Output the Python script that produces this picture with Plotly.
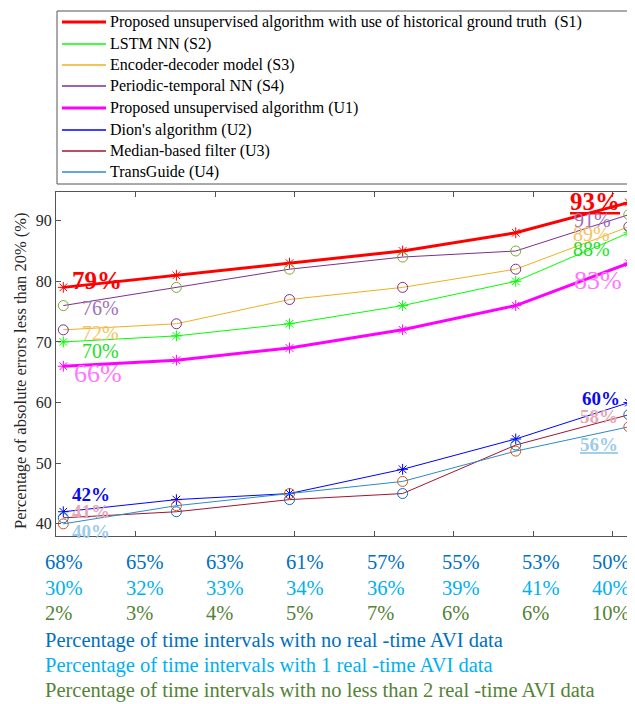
import plotly.graph_objects as go

# ---------------- data ----------------
x_idx = [1, 2, 3, 4, 5, 6]
s1 = [79, 81, 83, 85, 88, 93]
s2 = [70, 71, 73, 76, 80, 88]
s3 = [72, 73, 77, 79, 82, 89]
s4 = [76, 79, 82, 84, 85, 91]
u1 = [66, 67, 69, 72, 76, 83]
u2 = [42, 44, 45, 49, 54, 60]
u3 = [41, 42, 44, 45, 53, 58]
u4 = [40, 43, 45, 47, 52, 56]

series_names = [
    "Proposed unsupervised algorithm with use of historical ground truth  (S1)",
    "LSTM NN (S2)",
    "Encoder-decoder model (S3)",
    "Periodic-temporal NN (S4)",
    "Proposed unsupervised algorithm (U1)",
    "Dion's algorithm (U2)",
    "Median-based filter (U3)",
    "TransGuide (U4)",
]

row_none = ["68%", "65%", "63%", "61%", "57%", "55%", "53%", "50%"]
row_one = ["30%", "32%", "33%", "34%", "36%", "39%", "41%", "40%"]
row_two = ["2%", "3%", "4%", "5%", "7%", "6%", "6%", "10%"]
row_captions = [
    "Percentage of time intervals with no real -time AVI data",
    "Percentage of time intervals with 1 real -time AVI data",
    "Percentage of time intervals with no less than 2 real -time AVI data",
]
y_tick_vals = [40, 50, 60, 70, 80, 90]
y_title = "Percentage of absolute errors less than 20% (%)"

# ---------------- layout geometry (page has an 8px body margin) ----------------
W, H = 627, 696
L, R, T, B = 56, 632, 192, 536          # plot area on the page
OFF = 8
ML, MT = L - OFF, T - OFF
MR, MB = W - (R - OFF), H - (B - OFF)
PW, PH = R - L, B - T
XR = [0.9355, 6.028]
YR = [38.0, 94.73]
x_tick_pos = [XR[0] + 0.7034 * k for k in range(8)]

def pxx(px):
    return (px - L) / PW

def pxy(py):
    return (B - py) / PH

SERIF = "Liberation Serif"

styles = [
    # line colour, width, marker symbol, marker colour
    ("#FF0000", 3, "asterisk-open", "#FF0000"),
    ("#00FF00", 1, "asterisk-open", "#00FF00"),
    ("#EDB120", 1, "circle-open", "#7E2F8E"),
    ("#7E2F8E", 1, "circle-open", "#77AC30"),
    ("#FF00FF", 3, "asterisk-open", "#FF00FF"),
    ("#0000FF", 1, "asterisk-open", "#0000FF"),
    ("#A2142F", 1, "circle-open", "#0072BD"),
    ("#2B8ACB", 1, "circle-open", "#D95319"),
]
all_series = [s1, s2, s3, s4, u1, u2, u3, u4]

fig = go.Figure()
for name, vals, (lc, lw, sym, mc) in zip(series_names, all_series, styles):
    fig.add_trace(go.Scatter(
        x=x_idx, y=vals, mode="lines+markers", name=name,
        line=dict(color=lc, width=lw),
        marker=dict(symbol=sym, size=10 if sym.startswith("circle") else 9,
                    color=mc, line=dict(color=mc, width=1)),
        showlegend=False, cliponaxis=False,
    ))

ann = []
shapes = []

def lab(xv, yv, text, color, size, bold, anchor, xs, ys, underline=False):
    t = f"<b>{text}</b>" if bold else text
    if underline:
        t = f"<u>{t}</u>"
    ann.append(dict(x=xv, y=yv, xref="x", yref="y", text=t, showarrow=False,
                    xanchor=anchor, yanchor="middle", xshift=xs, yshift=ys,
                    font=dict(family=SERIF, size=size, color=color)))

# end-point labels (left = first point, right = last point)
label_specs = [
    (s1, "#FF0000", 25, True, (7, 7), (-7, 1), False, True),
    (s4, "#A070C0", 20, False, (17, -2), (-16, -5), False, False),
    (s3, "#F7C25E", 20, False, (17, -3), (-17, -7), False, False),
    (s2, "#22E022", 20, False, (17, -9), (-17, -16), False, False),
    (u1, "#FF77FF", 26, False, (9, -7), (-5, -17), False, False),
    (u2, "#0A0AF0", 19, True, (7, 17), (-7, 4), False, False),
    (u3, "#E6A8B6", 19, True, (7, 6), (-9, -2), False, False),
    (u4, "#9DCBEA", 19, True, (7, -8), (-9, -18), False, True),
]
for vals, col, size, bold, lsh, rsh, ul_left, ul_right in label_specs:
    lab(x_idx[0], vals[0], f"{vals[0]}%", col, size, bold, "left", lsh[0], lsh[1], ul_left)
    lab(x_idx[-1], vals[-1], f"{vals[-1]}%", col, size, bold, "right", rsh[0], rsh[1], ul_right)

# legend (drawn as a boxed key above the axes)
shapes.append(dict(type="rect", xref="paper", yref="paper",
                   x0=pxx(57), x1=pxx(633), y0=pxy(184), y1=pxy(11),
                   line=dict(color="#555555", width=1), fillcolor="rgba(0,0,0,0)"))
for i, (name, (lc, lw, sym, mc)) in enumerate(zip(series_names, styles)):
    yy = pxy(round(22 + 21.5 * i))
    shapes.append(dict(type="line", xref="paper", yref="paper",
                       x0=pxx(62), x1=pxx(106), y0=yy, y1=yy,
                       line=dict(color=lc, width=3 if lw > 1 else 1.6)))
    ann.append(dict(x=pxx(108), y=yy, xref="paper", yref="paper", text=name,
                    showarrow=False, xanchor="left", yanchor="middle",
                    font=dict(family=SERIF, size=16, color="#000000")))

# y-axis title
ann.append(dict(x=pxx(20), y=pxy(371), xref="paper", yref="paper", text=y_title,
                textangle=-90, showarrow=False, xanchor="center", yanchor="middle",
                font=dict(family=SERIF, size=16.5, color="#262626")))

# bottom percentage table
col_left_px = [43, 124, 204, 284, 365, 440, 520, 590]
row_y_px = [562, 587.7, 613.3]
row_colors = ["#0070C0", "#00B0F0", "#548235"]
for rvals, ry, rc in zip([row_none, row_one, row_two], row_y_px, row_colors):
    for cx, t in zip(col_left_px, rvals):
        ann.append(dict(x=pxx(cx), y=pxy(ry), xref="paper", yref="paper", text=t,
                        showarrow=False, xanchor="left", yanchor="middle",
                        font=dict(family=SERIF, size=20.5, color=rc)))
for cap, ry, rc in zip(row_captions, [640, 665, 690.7], row_colors):
    ann.append(dict(x=pxx(43), y=pxy(ry), xref="paper", yref="paper", text=cap,
                    showarrow=False, xanchor="left", yanchor="middle",
                    font=dict(family=SERIF, size=20.5, color=rc)))

AX = "#555555"
fig.update_layout(
    width=W, height=H,
    margin=dict(l=ML, r=MR, t=MT, b=MB, pad=0),
    paper_bgcolor="white", plot_bgcolor="white",
    font=dict(family=SERIF, size=16, color="#262626"),
    annotations=ann,
    shapes=shapes,
    showlegend=False,
    xaxis=dict(range=XR, tickvals=x_tick_pos, showticklabels=False,
               ticks="inside", ticklen=5, tickcolor=AX, showgrid=False,
               zeroline=False, showline=True, linecolor=AX, linewidth=1,
               mirror="ticks"),
    yaxis=dict(range=YR, tickvals=y_tick_vals, ticks="inside", ticklen=5,
               tickcolor=AX, showgrid=False, zeroline=False, showline=True,
               linecolor=AX, linewidth=1, mirror="ticks",
               tickfont=dict(family=SERIF, size=16, color="#262626")),
)

fig.write_html("out.html")
